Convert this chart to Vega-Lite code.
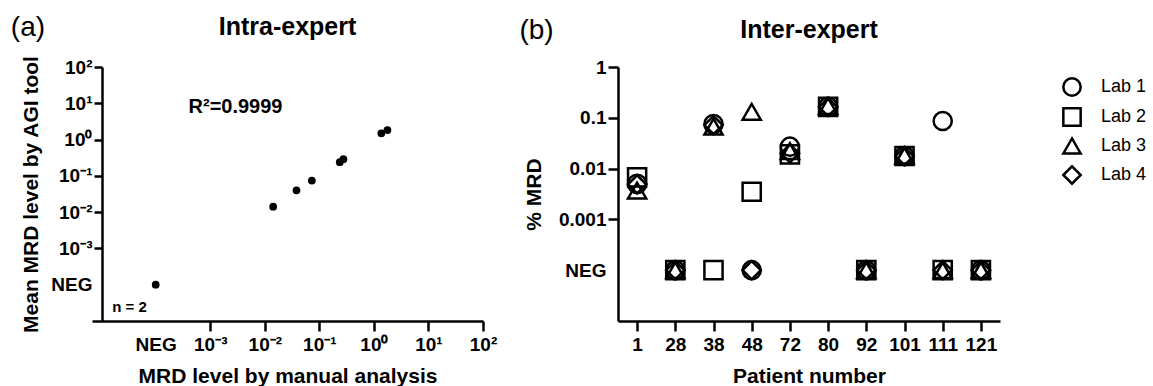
{
  "$schema": "https://vega.github.io/schema/vega-lite/v6.json",
  "padding": {"left": 10, "top": 14, "right": 5, "bottom": 2},
  "config": {
    "font": "Liberation Sans",
    "view": {"stroke": null},
    "axis": {
      "grid": false,
      "domainColor": "black",
      "domainWidth": 2.5,
      "tickColor": "black",
      "tickWidth": 2.5,
      "labelColor": "black",
      "labelFont": "Liberation Sans",
      "labelFontWeight": "bold",
      "labelFontSize": 19,
      "titleColor": "black",
      "titleFont": "Liberation Sans",
      "titleFontWeight": "bold",
      "titleFontSize": 21
    },
    "title": {"color": "black", "font": "Liberation Sans"}
  },
  "spacing": 22,
  "hconcat": [
    {
      "title": {"text": "(a)", "anchor": "start", "fontSize": 28, "fontWeight": "normal", "offset": -27, "dx": -10},
      "vconcat": [
        {
          "width": 391,
          "height": 254,
          "title": {"text": "Intra-expert", "fontSize": 25, "fontWeight": "bold", "offset": 15},
          "layer": [
            {
              "data": {"values": [
                {"manual": 0.0001, "agi": 0.0001},
                {"manual": 0.01425, "agi": 0.0141},
                {"manual": 0.0381, "agi": 0.0399},
                {"manual": 0.0729, "agi": 0.0741},
                {"manual": 0.237, "agi": 0.238},
                {"manual": 0.276, "agi": 0.288},
                {"manual": 1.37, "agi": 1.49},
                {"manual": 1.77, "agi": 1.83}
              ]},
              "mark": {"type": "point", "filled": true, "color": "black", "opacity": 1, "size": 60},
              "encoding": {
                "x": {
                  "field": "manual", "type": "quantitative",
                  "scale": {"type": "log", "domain": [0.0000068, 100], "nice": false},
                  "axis": {
                    "title": "MRD level by manual analysis",
                    "values": [0.0001, 0.001, 0.01, 0.1, 1, 10, 100],
                    "labelExpr": "datum.value < 0.0005 ? 'NEG' : '10' + (datum.value < 0.005 ? '⁻³' : datum.value < 0.05 ? '⁻²' : datum.value < 0.5 ? '⁻¹' : datum.value < 5 ? '⁰' : datum.value < 50 ? '¹' : '²')",
                    "labelFlush": false,
                    "labelOverlap": false,
                    "tickSize": 10,
                    "labelPadding": 4,
                    "titlePadding": 11,
                    "tickOpacity": {"condition": {"test": "datum.value < 0.0005", "value": 0}, "value": 1}
                  }
                },
                "y": {
                  "field": "agi", "type": "quantitative",
                  "scale": {"type": "log", "domain": [0.00001, 100], "nice": false},
                  "axis": {
                    "title": "Mean MRD level by AGI tool",
                    "values": [0.0001, 0.001, 0.01, 0.1, 1, 10, 100],
                    "labelExpr": "datum.value < 0.0005 ? 'NEG' : '10' + (datum.value < 0.005 ? '⁻³' : datum.value < 0.05 ? '⁻²' : datum.value < 0.5 ? '⁻¹' : datum.value < 5 ? '⁰' : datum.value < 50 ? '¹' : '²')",
                    "labelOverlap": false,
                    "offset": -10,
                    "tickSize": 8,
                    "labelPadding": 2,
                    "titlePadding": 9,
                    "tickOpacity": {"condition": {"test": "datum.value < 0.0005", "value": 0}, "value": 1}
                  }
                }
              }
            },
            {
              "data": {"values": [
                {"manual": 0.0004, "agi": 7.7, "label": "R²=0.9999", "size": 20},
                {"manual": 0.000016, "agi": 0.0000245, "label": "n = 2", "size": 15}
              ]},
              "mark": {"type": "text", "align": "left", "baseline": "middle", "fontWeight": "bold", "color": "black"},
              "encoding": {
                "x": {"field": "manual", "type": "quantitative"},
                "y": {"field": "agi", "type": "quantitative"},
                "text": {"field": "label"},
                "size": {"field": "size", "type": "quantitative", "scale": null}
              }
            }
          ]
        }
      ]
    },
    {
      "title": {"text": "(b)", "anchor": "start", "fontSize": 28, "fontWeight": "normal", "offset": -27, "dx": -4},
      "vconcat": [
        {
          "width": 382,
          "height": 254,
          "title": {"text": "Inter-expert", "fontSize": 25, "fontWeight": "bold", "offset": 15},
          "data": {"values": [
            {"patient": 1, "lab": "Lab 1", "mrd": 0.005},
            {"patient": 1, "lab": "Lab 2", "mrd": 0.0067},
            {"patient": 1, "lab": "Lab 3", "mrd": 0.0037},
            {"patient": 1, "lab": "Lab 4", "mrd": 0.0049},
            {"patient": 28, "lab": "Lab 1", "mrd": 0.0001},
            {"patient": 28, "lab": "Lab 2", "mrd": 0.0001},
            {"patient": 28, "lab": "Lab 3", "mrd": 0.0001},
            {"patient": 28, "lab": "Lab 4", "mrd": 0.0001},
            {"patient": 38, "lab": "Lab 1", "mrd": 0.075},
            {"patient": 38, "lab": "Lab 2", "mrd": 0.0001},
            {"patient": 38, "lab": "Lab 3", "mrd": 0.067},
            {"patient": 38, "lab": "Lab 4", "mrd": 0.072},
            {"patient": 48, "lab": "Lab 1", "mrd": 0.0001},
            {"patient": 48, "lab": "Lab 2", "mrd": 0.0035},
            {"patient": 48, "lab": "Lab 3", "mrd": 0.131},
            {"patient": 48, "lab": "Lab 4", "mrd": 0.0001},
            {"patient": 72, "lab": "Lab 1", "mrd": 0.027},
            {"patient": 72, "lab": "Lab 2", "mrd": 0.019},
            {"patient": 72, "lab": "Lab 3", "mrd": 0.022},
            {"patient": 72, "lab": "Lab 4", "mrd": 0.02},
            {"patient": 80, "lab": "Lab 1", "mrd": 0.165},
            {"patient": 80, "lab": "Lab 2", "mrd": 0.164},
            {"patient": 80, "lab": "Lab 3", "mrd": 0.17},
            {"patient": 80, "lab": "Lab 4", "mrd": 0.163},
            {"patient": 92, "lab": "Lab 1", "mrd": 0.0001},
            {"patient": 92, "lab": "Lab 2", "mrd": 0.0001},
            {"patient": 92, "lab": "Lab 3", "mrd": 0.0001},
            {"patient": 92, "lab": "Lab 4", "mrd": 0.0001},
            {"patient": 101, "lab": "Lab 1", "mrd": 0.0177},
            {"patient": 101, "lab": "Lab 2", "mrd": 0.0177},
            {"patient": 101, "lab": "Lab 3", "mrd": 0.018},
            {"patient": 101, "lab": "Lab 4", "mrd": 0.0176},
            {"patient": 111, "lab": "Lab 1", "mrd": 0.0865},
            {"patient": 111, "lab": "Lab 2", "mrd": 0.0001},
            {"patient": 111, "lab": "Lab 3", "mrd": 0.0001},
            {"patient": 111, "lab": "Lab 4", "mrd": 0.0001},
            {"patient": 121, "lab": "Lab 1", "mrd": 0.0001},
            {"patient": 121, "lab": "Lab 2", "mrd": 0.0001},
            {"patient": 121, "lab": "Lab 3", "mrd": 0.0001},
            {"patient": 121, "lab": "Lab 4", "mrd": 0.0001}
          ]},
          "mark": {"type": "point", "filled": false, "color": "black", "strokeWidth": 2.5, "size": 330, "opacity": 1},
          "encoding": {
            "x": {
              "field": "patient", "type": "ordinal",
              "scale": {"type": "point", "padding": 0.5},
              "axis": {"title": "Patient number", "labelAngle": 0, "tickSize": 10, "labelPadding": 4, "titlePadding": 11}
            },
            "y": {
              "field": "mrd", "type": "quantitative",
              "scale": {"type": "log", "domain": [0.00001, 1], "nice": false},
              "axis": {
                "title": "% MRD",
                "values": [0.0001, 0.001, 0.01, 0.1, 1],
                "labelExpr": "datum.value < 0.0005 ? 'NEG' : datum.value < 0.005 ? '0.001' : datum.value < 0.05 ? '0.01' : datum.value < 0.5 ? '0.1' : '1'",
                "labelOverlap": false,
                "tickSize": 10,
                "labelPadding": 2,
                "titlePadding": 14,
                "tickOpacity": {"condition": {"test": "datum.value < 0.0005", "value": 0}, "value": 1}
              }
            },
            "shape": {
              "field": "lab", "type": "nominal",
              "scale": {"domain": ["Lab 1", "Lab 2", "Lab 3", "Lab 4"], "range": ["circle", "square", "triangle-up", "diamond"]},
              "legend": {
                "title": null,
                "orient": "right",
                "offset": 52,
                "padding": 10,
                "symbolSize": 300,
                "symbolStrokeWidth": 2.5,
                "symbolStrokeColor": "black",
                "labelFontSize": 18,
                "labelFont": "Liberation Sans",
                "labelColor": "black",
                "labelOffset": 19,
                "rowPadding": 2
              }
            }
          }
        }
      ]
    }
  ]
}
